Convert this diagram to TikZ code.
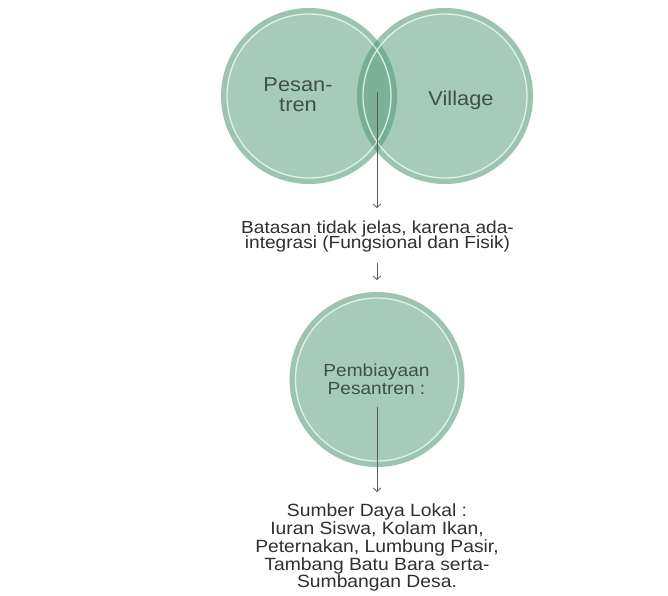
\documentclass[tikz,border=0pt]{standalone}
\usepackage{fontspec}
\setmainfont{Liberation Sans}[FakeStretch=1.09]
\usetikzlibrary{arrows.meta}
\definecolor{vgreen}{RGB}{81,153,119}
\definecolor{ringwhite}{RGB}{232,247,240}
\definecolor{circtext}{RGB}{62,80,72}
\definecolor{plaintext}{RGB}{48,48,48}
\definecolor{arrowgrey}{RGB}{90,90,90}
\newcommand\mytightlines{\lineskiplimit=-50pt\relax}
\tikzset{
  vennfill/.style={circle, inner sep=0pt, fill=vgreen, fill opacity=0.5},
  vennring/.style={draw=vgreen, draw opacity=0.12, line width=5pt},
  vennline/.style={draw=ringwhite, draw opacity=0.85, line width=1.3pt},
  intext/.style={text=circtext, align=center, inner sep=0pt},
  plain/.style={text=plaintext, align=center, inner sep=0pt},
  flow/.style={draw=arrowgrey, line width=0.8pt, -{Straight Barb[length=3.5pt,width=7.5pt]}},
}
\begin{document}
\begin{tikzpicture}[x=1pt,y=-1pt]
\useasboundingbox (0,0) rectangle (668,595);
\fill[white] (0,0) rectangle (668,595);
% circles
\node[vennfill, minimum size=176pt] (pes) at (309,96) {};
\node[vennfill, minimum size=176pt] (vil) at (445,96) {};
\node[vennfill, minimum size=175pt] (pem) at (377,379.5) {};
\foreach \c/\r in {pes/88, vil/88, pem/87.5}{
  \draw[vennring] (\c.center) circle[radius=\r pt-2.5pt];
  \draw[vennline] (\c.center) circle[radius=\r pt-6pt];
}
% texts
\node[intext, font={\fontsize{20}{20}\selectfont\mytightlines}] (pestxt) at (298,94.5) {Pesan-\\tren};
\node[intext, font={\fontsize{20}{20}\selectfont}, anchor=base] (viltxt) at (461,105) {Village};
\node[intext, font={\fontsize{17.5}{17.7}\selectfont\mytightlines}] (pemtxt) at (376.5,379.2) {Pembiayaan\\Pesantren :};
\node[plain, font={\fontsize{17.5}{15}\selectfont\mytightlines}] (batasan) at (377.5,236.4) {Batasan tidak jelas, karena ada-\\integrasi (Fungsional dan Fisik)};
\node[plain, font={\fontsize{17.7}{17.8}\selectfont\mytightlines}] (sumber) at (377,547.7) {Sumber Daya Lokal :\\Iuran Siswa, Kolam Ikan,\\Peternakan, Lumbung Pasir,\\Tambang Batu Bara serta-\\Sumbangan Desa.};
% connectors
\coordinate (a1s) at (377,92);
\coordinate (a1e) at (377,208);
\coordinate (a2s) at (377,263);
\coordinate (a2e) at (377,280);
\coordinate (a3s) at (377,407);
\coordinate (a3e) at (377,492);
\draw[flow] (a1s) -- (a1e);
\draw[flow] (a2s) -- (a2e);
\draw[flow] (a3s) -- (a3e);
\end{tikzpicture}
\end{document}
